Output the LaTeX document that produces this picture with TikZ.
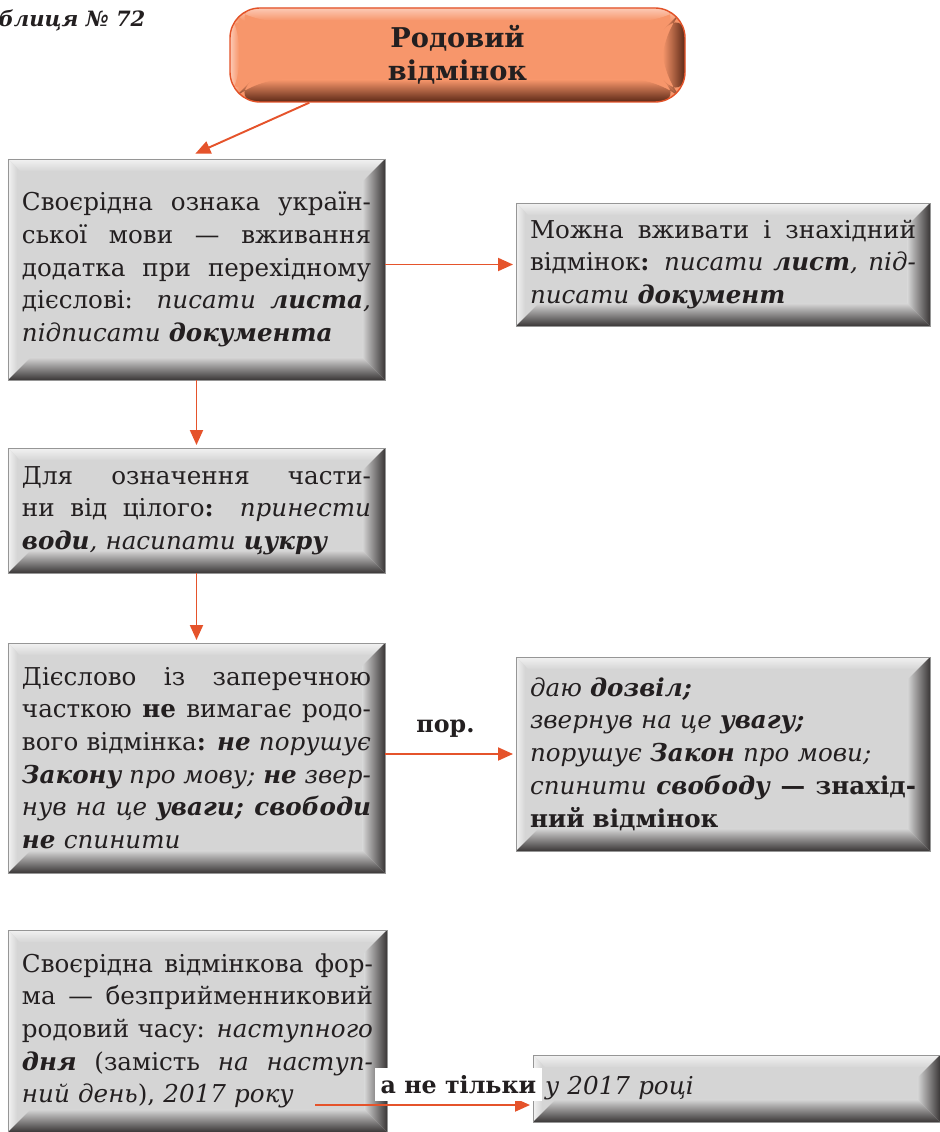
\documentclass[tikz,border=0pt]{standalone}
\usepackage{fontspec}
\setmainfont{DejaVu Serif}
\usepackage{tikz}
\usetikzlibrary{calc,arrows.meta}
\definecolor{panelgray}{RGB}{213,213,213}
\definecolor{paneldark}{RGB}{58,55,55}
\definecolor{panellight}{RGB}{242,242,242}
\definecolor{panelline}{RGB}{150,150,150}
\definecolor{titleorange}{RGB}{247,150,107}
\definecolor{titledark}{RGB}{92,40,22}
\definecolor{titlelight}{RGB}{252,202,182}
\definecolor{titleline}{RGB}{226,82,40}
\definecolor{arroworange}{RGB}{229,83,43}
\definecolor{inktext}{RGB}{35,31,32}

% bevel inside a box: base, dark edge, light edge
\newcommand{\bevel}[3]{%
  \path (path picture bounding box.south west) coordinate (bsw)
        (path picture bounding box.north east) coordinate (bne);
  \shade[top color=#3, bottom color=#1] (bsw |- bne) -- (bne) -- ($(bne)+(-0.25,-0.25)$) -- ($(bsw |- bne)+(0.25,-0.25)$) -- cycle;
  \shade[left color=#3, right color=#1] (bsw) -- (bsw |- bne) -- ($(bsw |- bne)+(0.18,-0.18)$) -- ($(bsw)+(0.18,0.18)$) -- cycle;
  \shade[left color=#1, right color=#2] (bne) -- (bsw -| bne) -- ($(bsw -| bne)+(-0.45,0.45)$) -- ($(bne)+(-0.45,-0.45)$) -- cycle;
  \shade[top color=#1, bottom color=#2] (bsw) -- (bsw -| bne) -- ($(bsw -| bne)+(-0.45,0.45)$) -- ($(bsw)+(0.45,0.45)$) -- cycle;
}
% justified line
\newcommand{\jl}[1]{\makebox[\hsize][s]{\spaceskip=0pt\xspaceskip=0pt #1}}

\begin{document}
\begin{tikzpicture}[
    panel/.style={draw=panelline, line width=0.4pt, fill=panelgray, text=inktext,
      inner xsep=0.28cm, inner ysep=0pt, align=left,
      font=\fontsize{14}{18.6}\selectfont,
      path picture={\bevel{panelgray}{paneldark}{panellight}}},
    conn/.style={draw=arroworange, line width=1.1pt,
      -{Triangle[length=0.3cm,width=0.26cm]}, shorten >=1.5pt},
  ]
    \useasboundingbox (0,0) rectangle (18.8,-22.64);

    % Table number
    \node[anchor=west, text=inktext, font=\bfseries\itshape\fontsize{12}{14}\selectfont] (tabno) at (-0.15,-0.42) {блиця № 72};

    % Title
    \node[draw=titleline, line width=0.8pt, fill=titleorange, rounded corners=0.6cm,
      minimum width=9.1cm, minimum height=1.88cm, align=center, text=inktext,
      font=\bfseries\fontsize{15.5}{18.5}\selectfont,
      path picture={\bevel{titleorange}{titledark}{titlelight}}] (title) at (9.15,-1.1) {Родовий\\відмінок};

    % Left column
    \node[panel, text width=6.98cm, minimum height=4.42cm] (b1) at (3.93,-5.39) {%
      \jl{Своєрідна ознака україн-}\\
      \jl{ської мови — вживання}\\
      \jl{додатка при перехідному}\\
      \jl{дієслові: \textit{писати \textbf{листа},}}\\
      \textit{підписати \textbf{документа}}};
    \node[panel, text width=6.98cm, minimum height=2.5cm] (b3) at (3.93,-10.21) {%
      \jl{Для означення части-}\\
      \jl{ни від цілого\textbf{:} \textit{принести}}\\
      \textit{\textbf{води}, насипати \textbf{цукру}}};
    \node[panel, text width=6.98cm, minimum height=4.6cm] (b4) at (3.93,-15.16) {%
      \jl{Дієслово із заперечною}\\
      \jl{часткою \textbf{не} вимагає родо-}\\
      \jl{вого відмінка\textbf{:} \textit{\textbf{не} порушує}}\\
      \jl{\textit{\textbf{Закону} про мову; \textbf{не} звер-}}\\
      \jl{\textit{нув на це \textbf{уваги; свободи}}}\\
      \textit{\textbf{не} спинити}};
    \node[panel, text width=7.02cm, minimum height=4.04cm] (b6) at (3.95,-20.62) {%
      \jl{Своєрідна відмінкова фор-}\\
      \jl{ма — безприйменниковий}\\
      \jl{родовий часу: \textit{наступного}}\\
      \jl{\textit{\textbf{дня}} (замість \textit{на наступ-}}\\
      \textit{ний день}), \textit{2017 року}};

    % Right column
    \node[panel, text width=7.72cm, minimum height=2.46cm] (b2) at (14.46,-5.29) {%
      \jl{Можна вживати і знахідний}\\
      \jl{відмінок\textbf{:} \textit{писати \textbf{лист}, під-}}\\
      \textit{писати \textbf{документ}}};
    \node[panel, text width=7.72cm, minimum height=3.88cm] (b5) at (14.46,-15.08) {%
      \textit{даю \textbf{дозвіл;}}\\
      \textit{звернув на це \textbf{увагу;}}\\
      \textit{порушує \textbf{Закон} про мови;}\\
      \jl{\textit{спинити \textbf{свободу}} \textbf{— знахід-}}\\
      \textbf{ний відмінок}};
    \node[panel, text width=7.66cm, inner xsep=0.24cm, minimum height=1.34cm] (b7) at (14.73,-21.77) {%
      \textit{у 2017 році}};

    % Connectors
    \draw[conn] ([xshift=1.6cm]title.south west) -- ([xshift=-0.07cm,yshift=0.08cm]b1.north);
    \draw[conn] (b1.east |- b2.west) -- (b2.west);
    \draw[conn] (b1.south) -- (b3.north);
    \draw[conn] (b3.south) -- (b4.north);
    \draw[conn] (b4.east |- b5.west) -- node[above=0.2cm, xshift=-0.1cm, text=inktext, font=\bfseries\fontsize{13.5}{16}\selectfont] (por) {пор.} (b5.west);

    \coordinate (from6) at (6.3,-22.1);
    \draw[conn] (from6) -- (from6 -| b7.west);
    \node[fill=white, inner xsep=3pt, inner ysep=4pt, text=inktext,
      font=\bfseries\fontsize{13.5}{16}\selectfont] (alt) at (9.17,-21.69) {а не тільки};
\end{tikzpicture}
\end{document}
